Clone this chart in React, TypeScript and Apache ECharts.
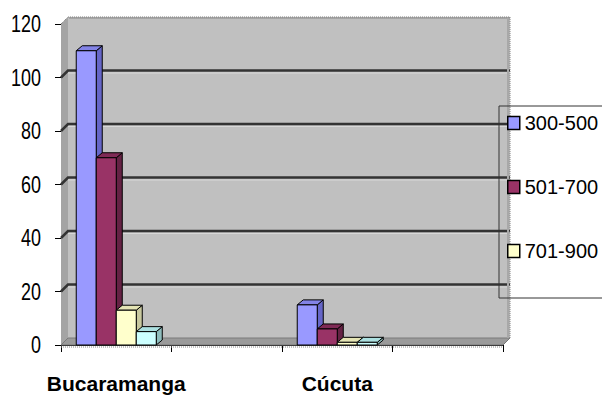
import React, { useEffect, useRef } from "react";
import * as echarts from "echarts";

// Categories along the floor (the 2nd and 4th slots are empty)
const CATEGORIES = ["Bucaramanga", "", "Cúcuta", ""];
const SERIES_NAMES = ["300-500", "501-700", "701-900", "901-1100"];
// Values per category slot (null = no bar)
const S_300_500 = [110, null, 15, null];
const S_501_700 = [70, null, 6, null];
const S_701_900 = [13, null, 1, null];
const S_901_1100 = [5, null, 1, null];
const Y_TICKS = [0, 20, 40, 60, 80, 100, 120];
const LEGEND_ITEMS = ["300-500", "501-700", "701-900"];

const SERIES_VALUES = [S_300_500, S_501_700, S_701_900, S_901_1100];

// front / top / side shades for each series
const FACE_COLORS = [
  { front: "#9999FF", top: "#8383E6", side: "#6666C8" },
  { front: "#993366", top: "#7F2A55", side: "#652244" },
  { front: "#FFFFCC", top: "#E4E4B4", side: "#C8C89E" },
  { front: "#CCFFFF", top: "#ACE0E0", side: "#8FBDBD" },
];

const WIDE = "'Liberation Sans', Arial, sans-serif";

const WALL_DX = 7;
const WALL_DY = -7;
const BAR_DX = 6;
const BAR_DY = -5;
const BAR_FRACTION = 0.181;

function wallRenderer(params: any, api: any) {
  const cs = params.coordSys;
  const x = cs.x;
  const y = cs.y;
  const w = cs.width;
  const h = cs.height;
  const children: any[] = [];
  // back wall
  children.push({
    type: "rect",
    shape: { x: x + WALL_DX, y: y + WALL_DY, width: w, height: h },
    style: { fill: "#C0C0C0" },
  });
  // left side wall
  children.push({
    type: "polygon",
    shape: {
      points: [
        [x, y],
        [x + WALL_DX, y + WALL_DY],
        [x + WALL_DX, y + h + WALL_DY],
        [x, y + h],
      ],
    },
    style: { fill: "#A4A4A4" },
  });
  // floor
  children.push({
    type: "polygon",
    shape: {
      points: [
        [x, y + h],
        [x + WALL_DX, y + h + WALL_DY],
        [x + w + WALL_DX, y + h + WALL_DY],
        [x + w, y + h],
      ],
    },
    style: { fill: "#9A9A9A", stroke: "#7A7A7A", lineWidth: 1 },
  });
  // gridlines on the walls
  Y_TICKS.forEach((v) => {
    if (v === 0 || v === Y_TICKS[Y_TICKS.length - 1]) return;
    const py = api.coord([0, v])[1];
    children.push({
      type: "polyline",
      shape: {
        points: [
          [x, py],
          [x + WALL_DX, py + WALL_DY],
          [x + w + WALL_DX, py + WALL_DY],
        ],
      },
      style: { fill: null, stroke: "#333333", lineWidth: 2.5 },
    });
    children.push({
      type: "line",
      shape: { x1: x + WALL_DX, y1: py + WALL_DY + 2.5, x2: x + w + WALL_DX, y2: py + WALL_DY + 2.5 },
      style: { stroke: "#D8D8D8", lineWidth: 1 },
    });
  });
  // top edge and right edge of the wall
  children.push({
    type: "polyline",
    shape: {
      points: [
        [x, y],
        [x + WALL_DX, y + WALL_DY],
        [x + w + WALL_DX, y + WALL_DY],
        [x + w + WALL_DX, y + h + WALL_DY],
        [x + w, y + h],
      ],
    },
    style: { fill: null, stroke: "#777777", lineWidth: 1, lineDash: [1, 1] },
  });
  children.push({
    type: "line",
    shape: { x1: x + WALL_DX + 1, y1: y + WALL_DY + 1, x2: x + w + WALL_DX, y2: y + WALL_DY + 1 },
    style: { stroke: "#8A8A8A", lineWidth: 1 },
  });
  children.push({
    type: "line",
    shape: { x1: x + w + WALL_DX - 2, y1: y + WALL_DY + 1, x2: x + w + WALL_DX - 2, y2: y + h + WALL_DY },
    style: { stroke: "#A8A8A8", lineWidth: 2 },
  });
  // dotted front edge of the floor
  children.push({
    type: "line",
    shape: { x1: x, y1: y + h + 2, x2: x + w, y2: y + h + 2 },
    style: { stroke: "#888888", lineWidth: 1, lineDash: [1, 1] },
  });
  return { type: "group", children };
}

// condensed value labels beside the front axis line
function yLabelRenderer(params: any, api: any) {
  const v = api.value(1);
  const py = api.coord([0, v])[1];
  return {
    type: "text",
    x: params.coordSys.x - 20,
    y: py,
    scaleX: 0.78,
    style: {
      text: String(v),
      fill: "#000",
      font: "23px 'Liberation Sans', Arial, sans-serif",
      align: "right",
      verticalAlign: "middle",
    },
  };
}

function makeBarRenderer(idx: number) {
  const c = FACE_COLORS[idx];
  return (params: any, api: any) => {
    const ci = api.value(0);
    const v = api.value(1);
    const base = api.coord([ci, 0]);
    const topY = api.coord([ci, v])[1];
    const band = api.size([1, 0])[0];
    const bw = band * BAR_FRACTION;
    const left = base[0] - 2 * bw + idx * bw;
    const right = left + bw;
    const y0 = base[1];
    const stroke = { stroke: "#000", lineWidth: 1 };
    return {
      type: "group",
      children: [
        {
          type: "polygon",
          shape: {
            points: [
              [right, topY],
              [right + BAR_DX, topY + BAR_DY],
              [right + BAR_DX, y0 + BAR_DY],
              [right, y0],
            ],
          },
          style: { fill: c.side, ...stroke },
        },
        {
          type: "polygon",
          shape: {
            points: [
              [left, topY],
              [left + BAR_DX, topY + BAR_DY],
              [right + BAR_DX, topY + BAR_DY],
              [right, topY],
            ],
          },
          style: { fill: c.top, ...stroke },
        },
        {
          type: "rect",
          shape: { x: left, y: topY, width: bw, height: y0 - topY },
          style: { fill: c.front, ...stroke },
        },
      ],
    };
  };
}

export default function App() {
  const ref = useRef<HTMLDivElement>(null);

  useEffect(() => {
    if (!ref.current) return;
    const chart = echarts.init(ref.current, undefined, { renderer: "svg" });

    const barSeries = SERIES_NAMES.map((name, idx) => ({
      type: "custom",
      name,
      z: 3,
      silent: true,
      clip: false,
      itemStyle: { color: FACE_COLORS[idx].front },
      encode: { x: 0, y: 1 },
      renderItem: makeBarRenderer(idx),
      data: SERIES_VALUES[idx]
        .map((v, ci) => (v === null ? null : [ci, v]))
        .filter((d) => d !== null),
    }));

    chart.setOption({
      animation: false,
      backgroundColor: "#FFFFFF",
      grid: { left: 61, right: 99, top: 24, bottom: 53, containLabel: false },
      xAxis: {
        type: "category",
        data: CATEGORIES,
        boundaryGap: true,
        axisLine: { show: true, lineStyle: { color: "#000", width: 1 } },
        axisTick: { show: true, length: 7, interval: 0, lineStyle: { color: "#000" } },
        axisLabel: {
          interval: 0,
          margin: 28,
          color: "#000",
          fontFamily: WIDE,
          fontWeight: "bold",
          fontSize: 21,
        },
        splitLine: { show: false },
      },
      yAxis: {
        type: "value",
        min: 0,
        max: 120,
        interval: 20,
        axisLine: { show: true, lineStyle: { color: "#000", width: 1 } },
        axisTick: { show: true, length: 6, lineStyle: { color: "#000" } },
        axisLabel: { show: false },
        splitLine: { show: false },
      },
      legend: {
        orient: "vertical",
        left: 499,
        top: 106,
        selectedMode: false,
        itemWidth: 12,
        itemHeight: 13,
        itemGap: 44,
        padding: [7, 40, 37, 8],
        borderColor: "#333",
        borderWidth: 1,
        textStyle: { fontFamily: WIDE, fontSize: 20, color: "#000", lineHeight: 20 },
        data: LEGEND_ITEMS.map((name) => {
          const idx = SERIES_NAMES.indexOf(name);
          return {
            name,
            icon: "rect",
            itemStyle: { color: FACE_COLORS[idx].front, borderColor: "#000", borderWidth: 1.5 },
          };
        }),
      },
      series: [
        {
          type: "custom",
          name: "walls",
          z: 1,
          silent: true,
          clip: false,
          encode: { x: 0, y: 1 },
          renderItem: wallRenderer,
          data: [[0, 0]],
        },
        {
          type: "custom",
          name: "yLabels",
          z: 4,
          silent: true,
          clip: false,
          encode: { x: 0, y: 1 },
          renderItem: yLabelRenderer,
          data: Y_TICKS.map((v) => [0, v]),
        },
        ...barSeries,
      ],
    });

    return () => chart.dispose();
  }, []);

  return (
    <div
      ref={ref}
      style={{ position: "fixed", left: 0, top: 0, width: 602, height: 398 }}
    />
  );
}
